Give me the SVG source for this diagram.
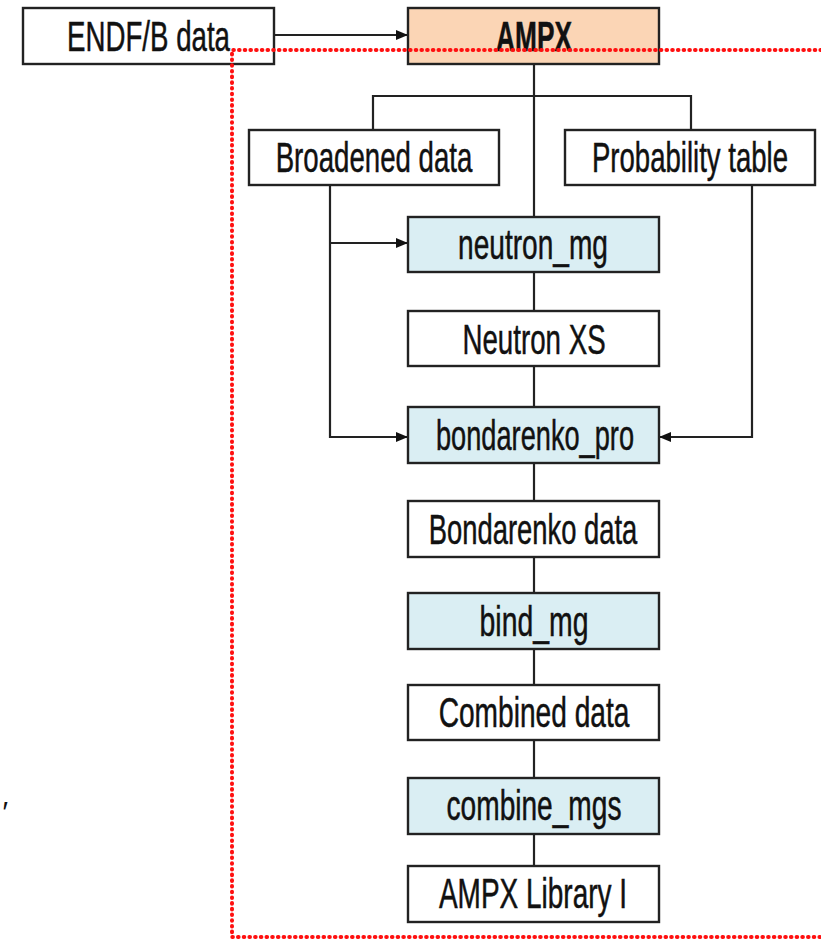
<svg xmlns="http://www.w3.org/2000/svg" width="821" height="939" viewBox="0 0 821 939">
<defs>
<marker id="arr" viewBox="0 0 12 10" refX="12" refY="5" markerWidth="12" markerHeight="10" markerUnits="userSpaceOnUse" orient="auto">
<path d="M0,0 L12,5 L0,10 z" fill="#111"/>
</marker>
<style>
.box{stroke:#222;stroke-width:2.4;fill:#fff}
.proc{fill:#DAEEF3}
.src{fill:#FBD5B5}
.t{font-family:"Liberation Sans",Arial,sans-serif;font-size:42px;fill:#111;stroke:#111;stroke-width:0.5;text-anchor:middle}
.b{font-weight:bold}
.c{stroke:#222;stroke-width:2.2;fill:none}
.red{stroke:#FF1010;stroke-width:4;fill:none;stroke-linecap:round;stroke-dasharray:0.6 5.1}
</style>
</defs>
<rect width="821" height="939" fill="#fff"/>
<g id="connectors">
<line class="c" x1="274" y1="35" x2="408" y2="35" marker-end="url(#arr)"/>
<line class="c" x1="534" y1="64" x2="534" y2="217"/>
<polyline class="c" points="373,130 373,96 691,96 691,130"/>
<line class="c" x1="534" y1="272" x2="534" y2="311"/>
<line class="c" x1="534" y1="366" x2="534" y2="407"/>
<line class="c" x1="534" y1="463" x2="534" y2="501"/>
<line class="c" x1="534" y1="557" x2="534" y2="593"/>
<line class="c" x1="534" y1="649" x2="534" y2="685"/>
<line class="c" x1="534" y1="740" x2="534" y2="778"/>
<line class="c" x1="534" y1="834" x2="534" y2="866"/>
<polyline class="c" points="330,185 330,437 408,437" marker-end="url(#arr)"/>
<line class="c" x1="330" y1="243" x2="408" y2="243" marker-end="url(#arr)"/>
<polyline class="c" points="752,185 752,437 659,437" marker-end="url(#arr)"/>
</g>
<g id="endf"><rect class="box" x="23" y="8" width="251" height="56"/><text class="t" transform="translate(148.5,51) scale(0.66,1)" x="0" y="0" textLength="247" lengthAdjust="spacingAndGlyphs">ENDF/B data</text></g>
<g id="ampx"><rect class="box src" x="408" y="8" width="251" height="56"/><text class="t b" transform="translate(534,51) scale(0.66,1)" x="0" y="0" textLength="115" lengthAdjust="spacingAndGlyphs">AMPX</text></g>
<g id="broadened"><rect class="box" x="249" y="130" width="250" height="55"/><text class="t" transform="translate(374,172) scale(0.66,1)" x="0" y="0" textLength="298" lengthAdjust="spacingAndGlyphs">Broadened data</text></g>
<g id="probtable"><rect class="box" x="565" y="130" width="250" height="55"/><text class="t" transform="translate(690,172) scale(0.66,1)" x="0" y="0" textLength="297" lengthAdjust="spacingAndGlyphs">Probability table</text></g>
<g id="neutron_mg"><rect class="box proc" x="408" y="217" width="251" height="55"/><text class="t" transform="translate(533,259) scale(0.66,1)" x="0" y="0" textLength="227" lengthAdjust="spacingAndGlyphs">neutron_mg</text></g>
<g id="neutronxs"><rect class="box" x="408" y="311" width="251" height="55"/><text class="t" transform="translate(534,354) scale(0.66,1)" x="0" y="0" textLength="217" lengthAdjust="spacingAndGlyphs">Neutron XS</text></g>
<g id="bondarenko_pro"><rect class="box proc" x="408" y="407" width="251" height="56"/><text class="t" transform="translate(535,450) scale(0.66,1)" x="0" y="0" textLength="300" lengthAdjust="spacingAndGlyphs">bondarenko_pro</text></g>
<g id="bondarenkodata"><rect class="box" x="408" y="501" width="251" height="56"/><text class="t" transform="translate(533,544) scale(0.66,1)" x="0" y="0" textLength="316" lengthAdjust="spacingAndGlyphs">Bondarenko data</text></g>
<g id="bind_mg"><rect class="box proc" x="408" y="593" width="251" height="56"/><text class="t" transform="translate(534,636) scale(0.66,1)" x="0" y="0" textLength="165" lengthAdjust="spacingAndGlyphs">bind_mg</text></g>
<g id="combineddata"><rect class="box" x="408" y="685" width="251" height="55"/><text class="t" transform="translate(534,727) scale(0.66,1)" x="0" y="0" textLength="289" lengthAdjust="spacingAndGlyphs">Combined data</text></g>
<g id="combine_mgs"><rect class="box proc" x="408" y="778" width="251" height="56"/><text class="t" transform="translate(534,820) scale(0.66,1)" x="0" y="0" textLength="265" lengthAdjust="spacingAndGlyphs">combine_mgs</text></g>
<g id="ampxlib"><rect class="box" x="408" y="866" width="251" height="56"/><text class="t" transform="translate(533,908) scale(0.66,1)" x="0" y="0" textLength="285" lengthAdjust="spacingAndGlyphs">AMPX Library I</text></g>
<g id="boundary">
<polyline class="red" points="821,50 232,50 232,937 821,937"/>
</g>
<text x="1" y="822" style="font-family:'Liberation Sans',sans-serif;font-size:30px;font-style:italic;fill:#111">′</text>
</svg>
